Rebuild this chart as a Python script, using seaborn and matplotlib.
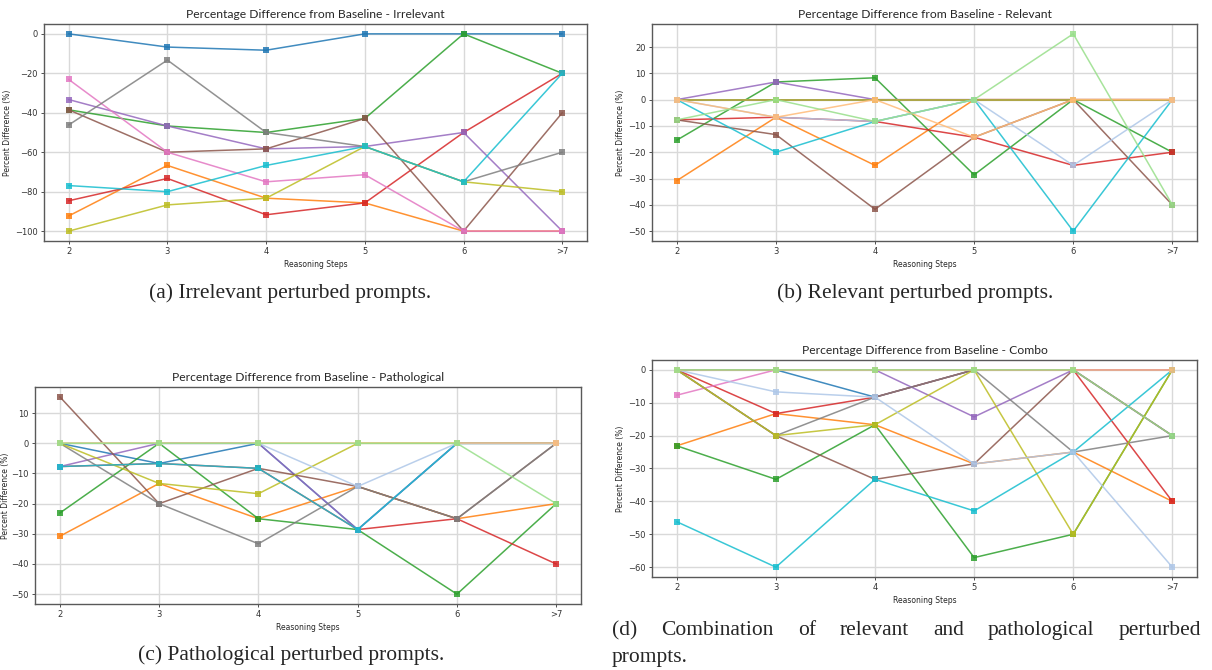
import pandas as pd
import matplotlib
matplotlib.use('Agg')
import matplotlib.pyplot as plt
import seaborn as sns

# categorias do eixo x (passos de raciocínio)
steps = ['2', '3', '4', '5', '6', '>7']

models = ['m01', 'm02', 'm03', 'm04', 'm05', 'm06', 'm07',
          'm08', 'm09', 'm10', 'm11', 'm12', 'm13']

# (a) irrelevante
irrelevant = {
    'm01': [0, -6.7, -8.3, 0, 0, 0],
    'm02': [-92.3, -66.7, -83.3, -85.7, -100, -100],
    'm03': [-38.5, -46.7, -50, -42.9, 0, -20],
    'm04': [-84.6, -73.3, -91.7, -85.7, -50, -20],
    'm05': [-33.3, -46.7, -58.3, -57.1, -50, -100],
    'm06': [-38.5, -60, -58.3, -42.9, -100, -40],
    'm07': [-23.1, -60, -75, -71.4, -100, -100],
    'm08': [-46.2, -13.3, -50, -57.1, -75, -60],
    'm09': [-100, -86.7, -83.3, -57.1, -75, -80],
    'm10': [-76.9, -80, -66.7, -57.1, -75, -20],
}

# (b) relevante
relevant = {
    'm01': [0, 0, 0, 0, 0, 0],
    'm02': [-30.8, -6.7, -25, 0, 0, 0],
    'm03': [-15.4, 6.7, 8.3, -28.6, 0, -20],
    'm04': [-7.7, -6.7, -8.3, -14.3, -25, -20],
    'm05': [0, 6.7, 0, 0, 0, 0],
    'm06': [-7.7, -13.3, -41.7, -14.3, 0, -40],
    'm07': [0, 0, 0, 0, 0, 0],
    'm08': [0, 0, 0, 0, 0, 0],
    'm09': [0, 0, 0, 0, 0, 0],
    'm10': [0, -20, -8.3, 0, -50, 0],
    'm11': [0, -6.7, -8.3, 0, -25, 0],
    'm12': [0, -6.7, 0, -14.3, 0, 0],
    'm13': [-7.7, 0, -8.3, 0, 25, -40],
}

# (c) patológico
pathological = {
    'm01': [0, -6.7, 0, -28.6, 0, 0],
    'm02': [-30.8, -13.3, -25, -14.3, -25, -20],
    'm03': [-23.1, 0, -25, -28.6, -50, -20],
    'm04': [-7.7, -6.7, -8.3, -28.6, -25, -40],
    'm05': [-7.7, 0, 0, -28.6, 0, 0],
    'm06': [15.4, -20, -8.3, -14.3, -25, 0],
    'm08': [0, -20, -33.3, -14.3, -25, 0],
    'm09': [0, -13.3, -16.7, 0, 0, 0],
    'm10': [-7.7, -6.7, -8.3, -28.6, 0, 0],
    'm11': [0, 0, 0, -14.3, 0, 0],
    'm12': [0, 0, 0, 0, 0, 0],
    'm13': [0, 0, 0, 0, 0, -20],
}

# (d) combinação
combo = {
    'm01': [0, 0, -8.3, 0, 0, 0],
    'm02': [-23.1, -13.3, -16.7, -28.6, -25, -40],
    'm03': [-23.1, -33.3, -16.7, -57.1, -50, 0],
    'm04': [0, -13.3, -8.3, 0, 0, -40],
    'm05': [0, 0, 0, -14.3, 0, -20],
    'm06': [0, -20, -33.3, -28.6, 0, -20],
    'm07': [-7.7, 0, 0, 0, 0, 0],
    'm08': [0, -20, -8.3, 0, -25, -20],
    'm09': [0, -20, -16.7, 0, -50, 0],
    'm10': [-46.2, -60, -33.3, -42.9, -25, 0],
    'm11': [0, -6.7, -8.3, -28.6, -25, -60],
    'm12': [0, 0, 0, 0, 0, 0],
    'm13': [0, 0, 0, 0, 0, -20],
}

cores = list(sns.color_palette('tab10')) + ['#aec7e8', '#ffbb78', '#98df8a']
palette = dict(zip(models, cores))

sns.set_style('whitegrid', {'axes.edgecolor': '0.35', 'grid.color': '0.85',
                            'xtick.bottom': True, 'ytick.left': True,
                            'xtick.color': '0.2', 'ytick.color': '0.2'})
plt.rcParams['font.family'] = ['DejaVu Sans']
plt.rcParams['grid.linewidth'] = 1.0


def desenha_painel(ax, dados, titulo):
    df = pd.DataFrame(dados, index=steps).reset_index(names='step')
    df = df.melt(id_vars='step', var_name='model', value_name='pct')
    sns.lineplot(data=df, x='step', y='pct', hue='model', palette=palette,
                 marker='s', markersize=4, markeredgewidth=0, linewidth=1.1,
                 alpha=0.85, sort=False, legend=False, ax=ax)
    ax.set_title(titulo, fontsize=8.7, family='Lato', pad=4)
    ax.set_xlabel('Reasoning Steps', fontsize=5.5, labelpad=3)
    ax.set_ylabel('Percent Difference (%)', fontsize=5.5, labelpad=2)
    ax.tick_params(labelsize=6, length=2.5, width=0.6, pad=2)
    for s in ax.spines.values():
        s.set_linewidth(1.0)


fig = plt.figure(figsize=(12.12, 6.70), dpi=100)

ax_a = fig.add_axes([0.0363, 0.6403, 0.448, 0.3239])
ax_b = fig.add_axes([0.538, 0.6403, 0.4497, 0.3239])
ax_c = fig.add_axes([0.0289, 0.0985, 0.4505, 0.3239])
ax_d = fig.add_axes([0.538, 0.1388, 0.4497, 0.3239])

desenha_painel(ax_a, irrelevant, 'Percentage Difference from Baseline - Irrelevant')
desenha_painel(ax_b, relevant, 'Percentage Difference from Baseline - Relevant')
desenha_painel(ax_c, pathological, 'Percentage Difference from Baseline - Pathological')
desenha_painel(ax_d, combo, 'Percentage Difference from Baseline - Combo')
ax_c.yaxis.labelpad = 1

# legendas das figuras (estilo artigo)
cap = dict(fontsize=15.5, family='Liberation Serif')
fig.text(290 / 1212, 1 - 293 / 670, '(a) Irrelevant perturbed prompts.', ha='center', va='center', **cap)
fig.text(915 / 1212, 1 - 293 / 670, '(b) Relevant perturbed prompts.', ha='center', va='center', **cap)
fig.text(291 / 1212, 1 - 655 / 670, '(c) Pathological perturbed prompts.', ha='center', va='center', **cap)

# linha justificada da legenda (d)
palavras = '(d) Combination of relevant and pathological perturbed'.split()
renderer = fig.canvas.get_renderer()
x0, x1 = 612, 1201
objs = [fig.text(0, 1 - 635 / 670, p, ha='left', va='baseline', **cap) for p in palavras]
larguras = [o.get_window_extent(renderer).width for o in objs]
gap = (x1 - x0 - sum(larguras)) / (len(palavras) - 1)
x = x0
for o, w in zip(objs, larguras):
    o.set_x(x / 1212)
    x += w + gap
fig.text(612 / 1212, 1 - 662 / 670, 'prompts.', ha='left', va='baseline', **cap)

fig.savefig('out.png', dpi=100)
